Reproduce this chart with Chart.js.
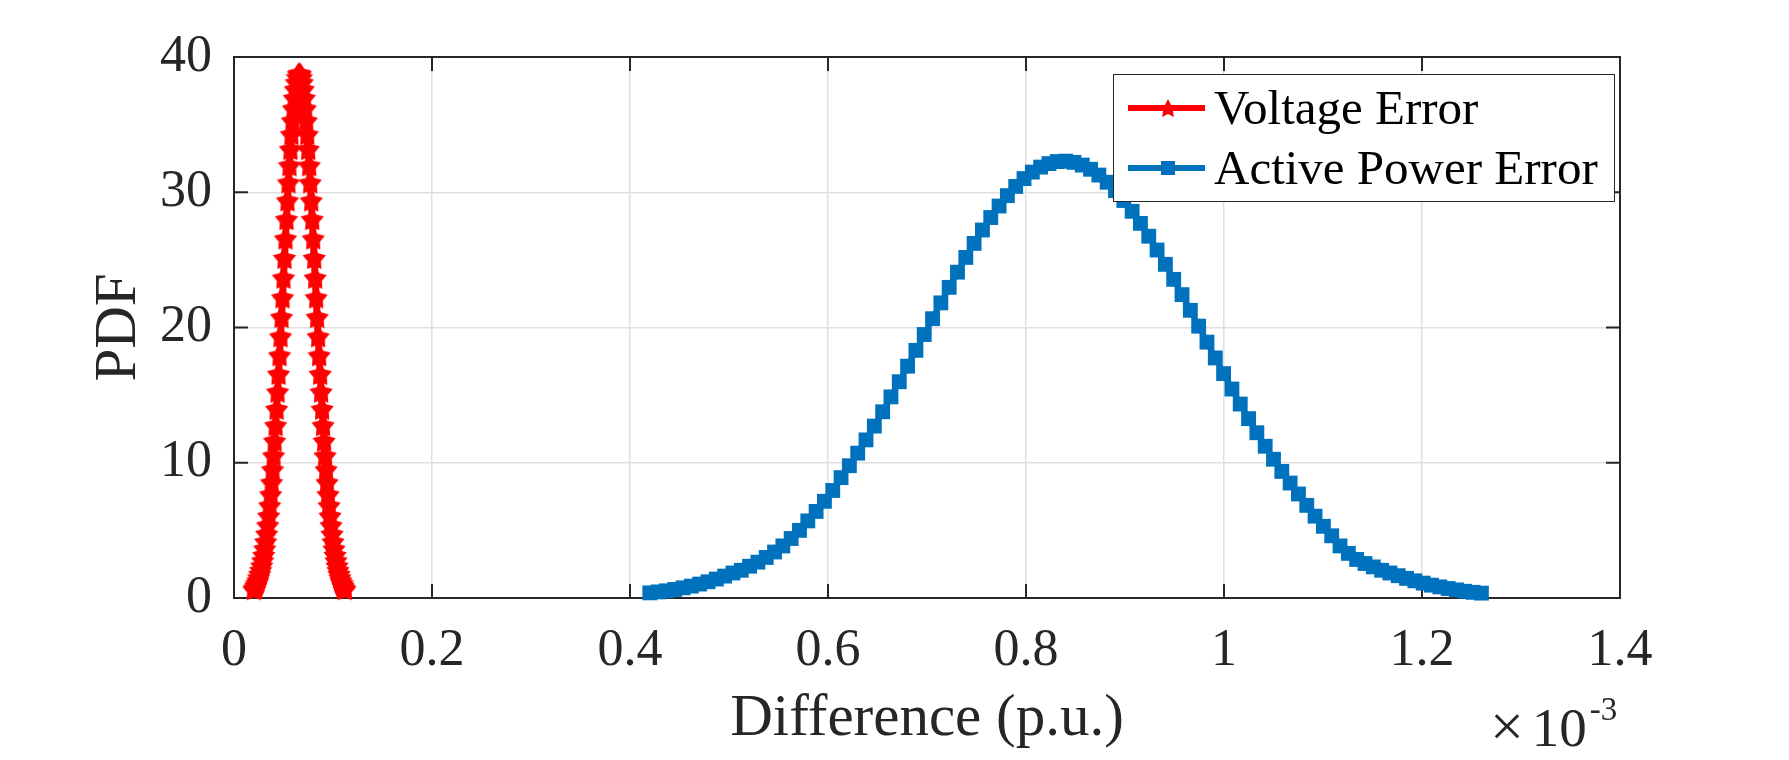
<!DOCTYPE html>
<html lang="en">
<head>
<meta charset="UTF-8">
<title>PDF - Voltage and Active Power Error</title>
<script src="https://cdn.jsdelivr.net/npm/chart.js"></script>
<style>
  * { margin: 0; padding: 0; box-sizing: border-box; }
  body { background: #fff; width: 1789px; height: 760px; overflow: hidden; font-family: 'Liberation Serif', 'Times New Roman', serif; }
  .wrap { position: relative; width: 1789px; height: 760px; }
  #chart { position: absolute; left: 0; top: 0; }
  .legend { position: absolute; left: 1113px; top: 74px; width: 502px; height: 128px; background: #fff; border: 1.5px solid #262626; }
  .legend .row { position: absolute; left: 0; width: 100%; height: 60px; }
  .legend svg { position: absolute; left: 13.5px; top: 0; }
  .legend span { position: absolute; left: 100px; top: 0; line-height: 60px; font-size: 49px; color: #000; white-space: nowrap; }
  .expo { position: absolute; left: 1490px; top: 700px; line-height: 55px; font-size: 55px; color: #262626; white-space: nowrap; }
  .expo .times { font-size: 60px; line-height: 0; margin-right: 8px; }
  .expo sup { font-size: 33px; line-height: 0; vertical-align: 26px; margin-left: 3px; }
</style>
</head>
<body>
<div class="wrap">
  <canvas id="chart" width="1789" height="760"></canvas>
  <div class="legend" id="legend"></div>
  <div class="expo"><span class="times">&times;</span>10<sup>-3</sup></div>
</div>
<script>
// x values are in units of 1e-3 p.u. (axis shows the x10^-3 multiplier)
const voltX = [0.020,0.021,0.022,0.023,0.024,0.025,0.026,0.027,0.028,0.029,0.030,0.031,0.032,0.033,0.034,0.035,0.036,0.037,0.038,0.039,0.040,0.041,0.042,0.043,0.044,0.045,0.046,0.047,0.048,0.049,0.050,0.051,0.052,0.053,0.054,0.055,0.056,0.057,0.058,0.059,0.060,0.061,0.062,0.063,0.064,0.065,0.066,0.067,0.068,0.069,0.070,0.071,0.072,0.073,0.074,0.075,0.076,0.077,0.078,0.079,0.080,0.081,0.082,0.083,0.084,0.085,0.086,0.087,0.088,0.089,0.090,0.091,0.092,0.093,0.094,0.095,0.096,0.097,0.098,0.099,0.100,0.101,0.102,0.103,0.104,0.105,0.106,0.107,0.108,0.109,0.110,0.111,0.112];
const voltPdf = [0.65,0.78,0.93,1.10,1.29,1.52,1.77,2.06,2.39,2.77,3.18,3.65,4.17,4.75,5.38,6.08,6.84,7.66,8.55,9.51,10.53,11.62,12.77,13.98,15.25,16.57,17.94,19.34,20.77,22.22,23.68,25.14,26.58,28.01,29.39,30.72,31.99,33.19,34.29,35.30,36.20,36.97,37.62,38.13,38.50,38.73,38.80,38.73,38.50,38.13,37.62,36.97,36.20,35.30,34.29,33.19,31.99,30.72,29.39,28.01,26.58,25.14,23.68,22.22,20.77,19.34,17.94,16.57,15.25,13.98,12.77,11.62,10.53,9.51,8.55,7.66,6.84,6.08,5.38,4.75,4.17,3.65,3.18,2.77,2.39,2.06,1.77,1.52,1.29,1.10,0.93,0.78,0.65];

const powerX = [0.4200,0.4284,0.4368,0.4452,0.4536,0.4620,0.4704,0.4788,0.4872,0.4956,0.5040,0.5124,0.5208,0.5292,0.5376,0.5460,0.5544,0.5628,0.5712,0.5796,0.5880,0.5964,0.6048,0.6132,0.6216,0.6300,0.6384,0.6468,0.6552,0.6636,0.6720,0.6804,0.6888,0.6972,0.7056,0.7140,0.7224,0.7308,0.7392,0.7476,0.7560,0.7644,0.7728,0.7812,0.7896,0.7980,0.8064,0.8148,0.8232,0.8316,0.8400,0.8484,0.8568,0.8652,0.8736,0.8820,0.8904,0.8988,0.9072,0.9156,0.9240,0.9324,0.9408,0.9492,0.9576,0.9660,0.9744,0.9828,0.9912,0.9996,1.0080,1.0164,1.0248,1.0332,1.0416,1.0500,1.0584,1.0668,1.0752,1.0836,1.0920,1.1004,1.1088,1.1172,1.1256,1.1340,1.1424,1.1508,1.1592,1.1676,1.1760,1.1844,1.1928,1.2012,1.2096,1.2180,1.2264,1.2348,1.2432,1.2516,1.2600];
const powerPdf = [0.38,0.45,0.53,0.63,0.75,0.88,1.03,1.20,1.40,1.62,1.85,2.05,2.35,2.65,3.00,3.40,3.85,4.40,5.00,5.70,6.40,7.15,7.95,8.90,9.78,10.71,11.69,12.71,13.77,14.87,15.99,17.14,18.31,19.48,20.65,21.82,22.97,24.09,25.18,26.22,27.21,28.13,28.98,29.75,30.43,31.01,31.49,31.86,32.12,32.27,32.30,32.21,32.01,31.70,31.27,30.74,30.12,29.39,28.59,27.70,26.75,25.73,24.67,23.56,22.43,21.27,20.10,18.92,17.75,16.59,15.45,14.34,13.26,12.22,11.22,10.26,9.36,8.50,7.69,6.85,6.05,5.30,4.60,3.85,3.30,2.85,2.55,2.30,2.05,1.85,1.65,1.45,1.27,1.10,0.95,0.82,0.70,0.60,0.50,0.42,0.36];

const xTickValues = [0, 0.2, 0.4, 0.6, 0.8, 1, 1.2, 1.4];
const yTickValues = [0, 10, 20, 30, 40];

const FONT = "'Liberation Serif', 'Times New Roman', serif";
const AXIS_COLOR = '#262626';
const RED = '#ff0000';
const BLUE = '#0072bd';

function starPoints(cx, cy, outer, inner) {
    const pts = [];
    for (let k = 0; k < 10; k++) {
        const a = -Math.PI / 2 + k * Math.PI / 5;
        const r = k % 2 === 0 ? outer : inner;
        pts.push([cx + r * Math.cos(a), cy + r * Math.sin(a)]);
    }
    return pts;
}

// filled pentagram used as the marker for the voltage curve
function makeStar(size, outer, inner, color) {
    const c = document.createElement('canvas');
    c.width = size; c.height = size;
    const g = c.getContext('2d');
    g.fillStyle = color;
    g.strokeStyle = color;
    g.lineWidth = 1.5;
    g.lineJoin = 'miter';
    g.beginPath();
    starPoints(size / 2, size / 2 + 1, outer, inner).forEach((p, i) => i ? g.lineTo(p[0], p[1]) : g.moveTo(p[0], p[1]));
    g.closePath();
    g.fill();
    g.stroke();
    return c;
}
const starImg = makeStar(26, 10.8, 6.2, RED);

// matlab style box with ticks pointing inwards on all four sides
const boxPlugin = {
    id: 'matlabBox',
    beforeDatasetsDraw(chart) {
        const { ctx, chartArea: a, scales: { x, y } } = chart;
        ctx.save();
        ctx.strokeStyle = AXIS_COLOR;
        ctx.lineWidth = 2;
        ctx.beginPath();
        xTickValues.forEach(v => {
            const px = x.getPixelForValue(v);
            ctx.moveTo(px, a.bottom); ctx.lineTo(px, a.bottom - 14);
            ctx.moveTo(px, a.top); ctx.lineTo(px, a.top + 14);
        });
        yTickValues.forEach(v => {
            const py = y.getPixelForValue(v);
            ctx.moveTo(a.left, py); ctx.lineTo(a.left + 14, py);
            ctx.moveTo(a.right, py); ctx.lineTo(a.right - 14, py);
        });
        ctx.stroke();
        ctx.strokeRect(a.left, a.top, a.right - a.left, a.bottom - a.top);
        ctx.restore();
    }
};

new Chart(document.getElementById('chart'), {
    type: 'scatter',
    data: {
        datasets: [
            {
                label: 'Voltage Error',
                data: voltX.map((v, i) => ({ x: v, y: voltPdf[i] })),
                showLine: true,
                borderColor: RED,
                backgroundColor: RED,
                borderWidth: 7,
                pointStyle: starImg,
                pointRadius: 10,
                clip: false
            },
            {
                label: 'Active Power Error',
                data: powerX.map((v, i) => ({ x: v, y: powerPdf[i] })),
                showLine: true,
                borderColor: BLUE,
                backgroundColor: BLUE,
                borderWidth: 6,
                pointStyle: 'rect',
                pointRadius: 10.5,
                pointBorderWidth: 0,
                clip: false
            }
        ]
    },
    options: {
        responsive: false,
        animation: false,
        devicePixelRatio: 1,
        layout: { padding: { left: 0, top: 57, right: 169, bottom: 0 } },
        plugins: { legend: { display: false }, tooltip: { enabled: false } },
        scales: {
            x: {
                type: 'linear',
                min: 0,
                max: 1.4,
                afterFit: s => { s.height = 162; },
                afterBuildTicks: s => { s.ticks = xTickValues.map(v => ({ value: v })); },
                grid: { color: '#dfdfdf', lineWidth: 1.5, drawTicks: false },
                border: { display: false },
                ticks: {
                    padding: 22,
                    color: AXIS_COLOR,
                    maxRotation: 0,
                    autoSkip: false,
                    font: { family: FONT, size: 52 },
                    callback: v => String(+v.toFixed(1))
                },
                title: {
                    display: true,
                    text: 'Difference (p.u.)',
                    color: AXIS_COLOR,
                    font: { family: FONT, size: 59 },
                    padding: { top: 0, bottom: 5 }
                }
            },
            y: {
                type: 'linear',
                min: 0,
                max: 40,
                afterFit: s => { s.width = 234; },
                afterBuildTicks: s => { s.ticks = yTickValues.map(v => ({ value: v })); },
                grid: { color: '#dfdfdf', lineWidth: 1.5, drawTicks: false },
                border: { display: false },
                ticks: {
                    padding: 22,
                    color: AXIS_COLOR,
                    font: { family: FONT, size: 52 }
                },
                title: {
                    display: true,
                    text: 'PDF',
                    color: AXIS_COLOR,
                    font: { family: FONT, size: 59 },
                    padding: { top: 84, bottom: 0 }
                }
            }
        }
    },
    plugins: [boxPlugin]
});

// legend drawn as html so the text stays selectable
const legendItems = [
    { label: 'Voltage Error', color: RED, marker: 'star' },
    { label: 'Active Power Error', color: BLUE, marker: 'square' }
];
const legendEl = document.getElementById('legend');
legendItems.forEach((item, i) => {
    let mark;
    if (item.marker === 'star') {
        const pts = starPoints(40, 31, 10, 5).map(p => p[0].toFixed(2) + ',' + p[1].toFixed(2)).join(' ');
        mark = `<polygon points="${pts}" fill="${item.color}"/>`;
    } else {
        mark = `<rect x="33" y="23" width="14" height="14" fill="${item.color}"/>`;
    }
    legendEl.innerHTML += `<div class="row" style="top:${2.5 + i * 60}px">
        <svg width="80" height="60"><line x1="0" y1="30" x2="77" y2="30" stroke="${item.color}" stroke-width="6"/>${mark}</svg>
        <span>${item.label}</span></div>`;
});
</script>
</body>
</html>
